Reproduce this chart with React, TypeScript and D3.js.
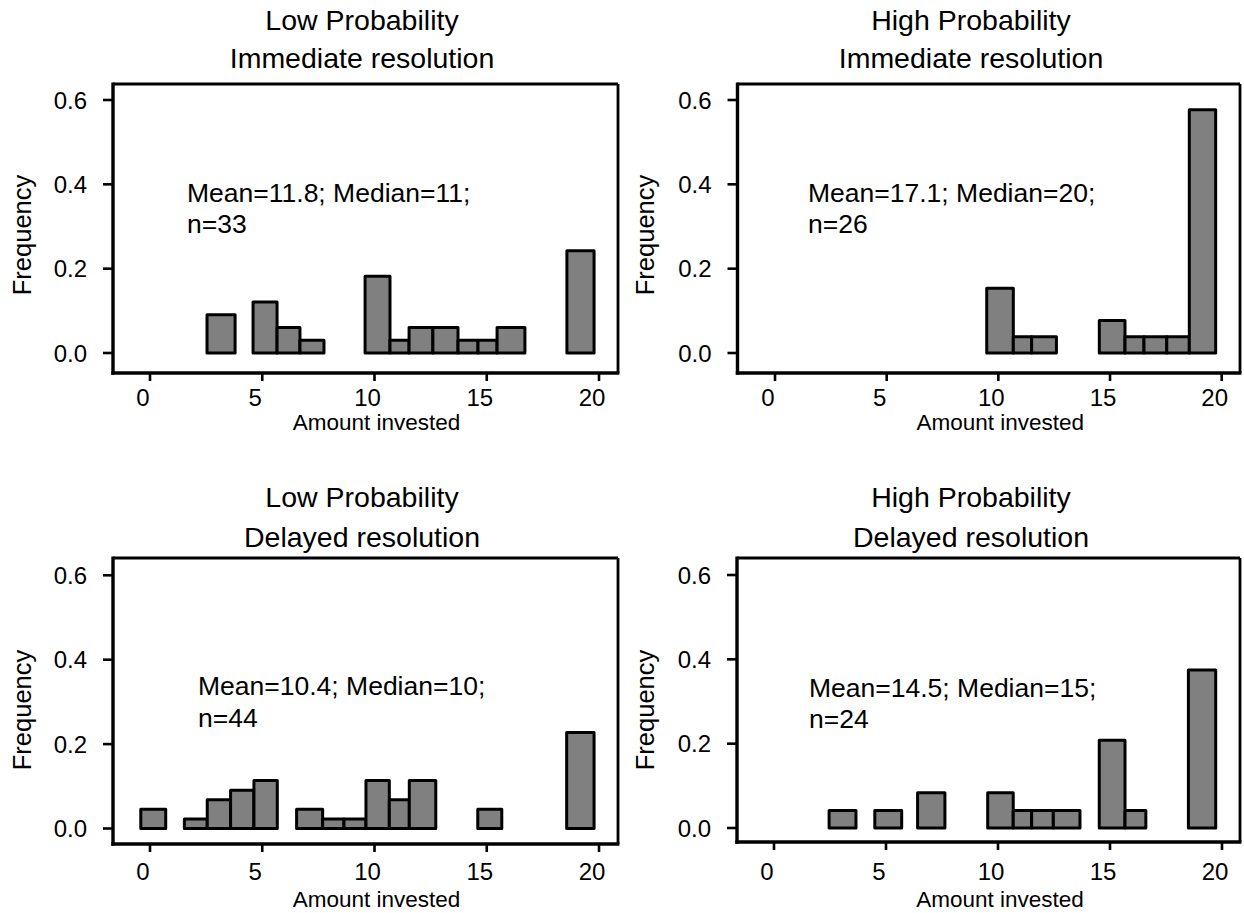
import React from "react";
import * as d3 from "d3";

// ---------- data ----------
const xTicks = [0, 5, 10, 15, 20];
const yTicks = [0, 0.2, 0.4, 0.6];
const xLabel = "Amount invested";
const yLabel = "Frequency";

const titles = [
  ["Low Probability", "Immediate resolution"],
  ["High Probability", "Immediate resolution"],
  ["Low Probability", "Delayed resolution"],
  ["High Probability", "Delayed resolution"],
];
const stats = [
  ["Mean=11.8; Median=11;", "n=33"],
  ["Mean=17.1; Median=20;", "n=26"],
  ["Mean=10.4; Median=10;", "n=44"],
  ["Mean=14.5; Median=15;", "n=24"],
];

// Low probability, immediate resolution
const liValues = [3, 5, 6, 7, 10, 11, 12, 13, 14, 15, 16, 20];
const liCounts = [3, 4, 2, 1, 6, 1, 2, 2, 1, 1, 2, 8];
const liLo = [2.54, 4.59, 5.66, 6.68, 9.58, 10.69, 11.54, 12.6, 13.72, 14.61, 15.46, 18.57];
const liHi = [3.79, 5.66, 6.68, 7.75, 10.69, 11.54, 12.6, 13.72, 14.61, 15.46, 16.7, 19.78];

// High probability, immediate resolution
const hiValues = [10, 11, 12, 15, 16, 17, 18, 20];
const hiCounts = [4, 1, 1, 2, 1, 1, 1, 15];
const hiLo = [9.48, 10.67, 11.49, 14.52, 15.67, 16.52, 17.54, 18.55];
const hiHi = [10.67, 11.49, 12.6, 15.67, 16.52, 17.54, 18.55, 19.73];

// Low probability, delayed resolution
const ldValues = [0, 2, 3, 4, 5, 7, 8, 9, 10, 11, 12, 15, 20];
const ldCounts = [2, 1, 3, 4, 5, 2, 1, 1, 5, 3, 5, 2, 10];
const ldLo = [-0.41, 1.53, 2.55, 3.59, 4.63, 6.53, 7.69, 8.64, 9.62, 10.66, 11.55, 14.6, 18.56];
const ldHi = [0.7, 2.55, 3.59, 4.63, 5.67, 7.69, 8.64, 9.62, 10.66, 11.55, 12.73, 15.67, 19.78];

// High probability, delayed resolution
const hdValues = [3, 5, 7, 10, 11, 12, 13, 15, 16, 20];
const hdCounts = [1, 1, 2, 2, 1, 1, 1, 5, 1, 9];
const hdLo = [2.46, 4.5, 6.41, 9.54, 10.68, 11.5, 12.47, 14.52, 15.67, 18.5];
const hdHi = [3.66, 5.7, 7.63, 10.68, 11.5, 12.47, 13.66, 15.67, 16.6, 19.72];

const panelData = [
  { values: liValues, counts: liCounts, lo: liLo, hi: liHi },
  { values: hiValues, counts: hiCounts, lo: hiLo, hi: hiHi },
  { values: ldValues, counts: ldCounts, lo: ldLo, hi: ldHi },
  { values: hdValues, counts: hdCounts, lo: hdLo, hi: hdHi },
];

// ---------- layout ----------
const layouts = [
  { left: 113, right: 618, top: 84, bottom: 373, x0: 150, x20: 599, y0: 353, y06: 100,
    titleX: 362, titleY: [30, 68], statX: 187, statY: [202, 233], tickY: 406, labelY: 430, yLabX: 22, yLabY: 235 },
  { left: 737.5, right: 1240, top: 84, bottom: 373, x0: 775, x20: 1221.7, y0: 353, y06: 100,
    titleX: 971, titleY: [30, 68], statX: 808, statY: [202, 233], tickY: 406, labelY: 430, yLabX: 645, yLabY: 235 },
  { left: 113, right: 618, top: 558, bottom: 844, x0: 150, x20: 599, y0: 828.5, y06: 575.3,
    titleX: 362, titleY: [507, 547], statX: 198, statY: [695, 727], tickY: 880, labelY: 907, yLabX: 22, yLabY: 710 },
  { left: 737, right: 1240, top: 558, bottom: 842, x0: 774, x20: 1222, y0: 828, y06: 575,
    titleX: 971, titleY: [507, 547], statX: 809, statY: [697, 728], tickY: 880, labelY: 907, yLabX: 645, yLabY: 710 },
];

const FONT = "'Liberation Sans', Arial, Helvetica, sans-serif";
const fmt = d3.format(".1f");

function Panel({ idx }: { idx: number }) {
  const L = layouts[idx];
  const D = panelData[idx];
  const n = d3.sum(D.counts);
  const xs = d3.scaleLinear().domain([0, 20]).range([L.x0, L.x20]);
  const ys = d3.scaleLinear().domain([0, 0.6]).range([L.y0, L.y06]);
  return (
    <g>
      {titles[idx].map((t, i) => (
        <text key={i} x={L.titleX} y={L.titleY[i]} textAnchor="middle" fontSize={28.5} fontFamily={FONT}>
          {t}
        </text>
      ))}
      {D.values.map((v, i) => {
        const f = D.counts[i] / n;
        return (
          <rect
            key={v}
            x={xs(D.lo[i])}
            width={xs(D.hi[i]) - xs(D.lo[i])}
            y={ys(f)}
            height={ys(0) - ys(f)}
            fill="#808080"
            stroke="#000"
            strokeWidth={3}
            strokeLinejoin="round"
          />
        );
      })}
      {/* frame: thinner top/right, thicker left/bottom */}
      <line x1={L.left} x2={L.right} y1={L.top} y2={L.top} stroke="#000" strokeWidth={2.8} />
      <line x1={L.right} x2={L.right} y1={L.top} y2={L.bottom} stroke="#000" strokeWidth={2.8} />
      <line x1={L.left} x2={L.left} y1={L.top - 1.4} y2={L.bottom + 1.7} stroke="#000" strokeWidth={3.4} />
      <line x1={L.left - 1.7} x2={L.right + 1.4} y1={L.bottom} y2={L.bottom} stroke="#000" strokeWidth={3.4} />
      {yTicks.map((t) => (
        <g key={t}>
          <line x1={L.left - 10} x2={L.left} y1={ys(t)} y2={ys(t)} stroke="#000" strokeWidth={2.6} />
          <text x={L.left - 26} y={ys(t)} dy="0.36em" textAnchor="end" fontSize={24} fontFamily={FONT}>
            {fmt(t)}
          </text>
        </g>
      ))}
      {xTicks.map((t) => (
        <g key={t}>
          <line x1={xs(t)} x2={xs(t)} y1={L.bottom} y2={L.bottom + 8} stroke="#000" strokeWidth={2.6} />
          <text x={xs(t) - 7} y={L.tickY} textAnchor="middle" fontSize={24} fontFamily={FONT}>
            {t}
          </text>
        </g>
      ))}
      <text x={(L.x0 + L.x20) / 2 + 2} y={L.labelY} textAnchor="middle" fontSize={22.5} fontFamily={FONT}>
        {xLabel}
      </text>
      <text
        transform={`translate(${L.yLabX},${L.yLabY}) rotate(-90)`}
        textAnchor="middle"
        dy="0.36em"
        fontSize={25.5}
        fontFamily={FONT}
      >
        {yLabel}
      </text>
      {stats[idx].map((s, i) => (
        <text key={i} x={L.statX} y={L.statY[i]} fontSize={26.5} fontFamily={FONT}>
          {s}
        </text>
      ))}
    </g>
  );
}

export default function App() {
  return (
    <svg
      width={1244}
      height={913}
      viewBox="0 0 1244 913"
      style={{ position: "absolute", left: 0, top: 0, display: "block", background: "#fff" }}
    >
      <rect x={0} y={0} width={1244} height={913} fill="#fff" />
      {[0, 1, 2, 3].map((i) => (
        <Panel key={i} idx={i} />
      ))}
    </svg>
  );
}
